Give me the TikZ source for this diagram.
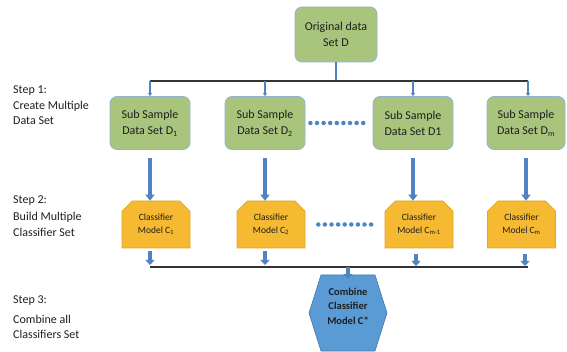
\documentclass[tikz,border=0pt]{standalone}
\usepackage{fontspec}
\setmainfont{Carlito}
\usetikzlibrary{arrows.meta,shapes.misc,calc}
\definecolor{gfill}{RGB}{169,196,124}
\definecolor{gline}{RGB}{150,178,210}
\definecolor{ofill}{RGB}{245,185,50}
\definecolor{oline}{RGB}{225,165,40}
\definecolor{hfill}{RGB}{91,155,213}
\definecolor{hline}{RGB}{70,120,170}
\definecolor{ablue}{RGB}{80,132,192}
\definecolor{txt}{RGB}{30,30,30}
\begin{document}
\begin{tikzpicture}[x=1pt,y=-1pt,
  gbox/.style={draw=gline, fill=gfill, rounded corners=7pt, line width=0.8pt,
    minimum width=80pt, minimum height=53pt, align=center, inner sep=0pt,
    font=\fontsize{12}{16}\selectfont, text=txt},
  cbox/.style={chamfered rectangle, chamfered rectangle corners={north west,north east},
    chamfered rectangle xsep=7pt, draw=oline, fill=ofill, line width=0.6pt,
    minimum width=68pt, minimum height=47pt, align=center, inner sep=0pt,
    font=\fontsize{9.5}{13}\selectfont, text=txt},
  steptext/.style={anchor=north west, align=left, inner sep=0pt,
    font=\fontsize{12}{15.5}\selectfont, text=txt},
  busline/.style={draw=black!80, line width=1.1pt},
  thinarrow/.style={draw=ablue, line width=1.3pt, -{Triangle[width=4pt,length=3pt]}},
  bigarrow/.style={draw=ablue, line width=3.5pt, -{Triangle[width=9pt,length=6pt]}},
  smallarrow/.style={draw=ablue, line width=3.5pt, -{Triangle[width=9pt,length=5pt]}},
  dotline/.style={draw=ablue, line width=4.5pt, line cap=round, dash pattern=on 0pt off 6.6pt},
]
\useasboundingbox (0,0) rectangle (567,352);

% original
\node[gbox, minimum width=82pt, minimum height=55pt] (orig) at (336,34.5) {Original data\\Set D};

% step labels
\node[steptext] (st1) at (13,86) {Step 1:\\Create Multiple\\Data Set};
\node[steptext] (st2) at (13,196) {Step 2:\\[1.5pt]Build Multiple\\Classifier Set};
\node[steptext] (st3) at (13,296) {Step 3:\\[4pt]Combine all\\Classifiers Set};

% sub sample boxes
\node[gbox] (s1) at (150,123) {Sub Sample\\Data Set D\textsubscript{1}};
\node[gbox] (s2) at (265,123) {Sub Sample\\Data Set D\textsubscript{2}};
\node[gbox] (s3) at (413,123) {Sub Sample\\Data Set D1};
\node[gbox, minimum width=78pt] (s4) at (526,123) {Sub Sample\\Data Set D\textsubscript{m}};

% top bus
\coordinate (b1L) at (150,81);
\coordinate (b1R) at (528,81);
\draw[draw=ablue, line width=1.3pt] (orig.south) -- (orig.south |- b1L);
\draw[busline] (b1L) -- (b1R);
\draw[thinarrow] (b1L) -- (s1.north);
\draw[thinarrow] (s2.north |- b1L) -- (s2.north);
\draw[thinarrow] (s3.north |- b1L) -- (s3.north);
\draw[thinarrow] (b1R) -- (b1R |- s4.north);

% classifiers
\node[cbox] (c1) at (156,224.5) {Classifier\\Model C\textsubscript{1}};
\node[cbox] (c2) at (271,224.5) {Classifier\\Model C\textsubscript{2}};
\node[cbox] (c3) at (419,224.5) {Classifier\\Model C\textsubscript{m-1}};
\node[cbox] (c4) at (521.5,224.5) {Classifier\\Model C\textsubscript{m}};

% big arrows
\draw[bigarrow, shorten <=8pt] (s1.south) -- (s1.south |- c1.north);
\draw[bigarrow, shorten <=8pt] (s2.south) -- (s2.south |- c2.north);
\draw[bigarrow, shorten <=8pt] (s3.south) -- (s3.south |- c3.north);
\draw[bigarrow, shorten <=8pt] (s4.south) -- (s4.south |- c4.north);

% dotted
\draw[dotline, shorten <=5pt, shorten >=6pt] (s2.east) -- (s3.west);
\draw[dotline, shorten <=13pt, shorten >=12pt] (c2.east) -- (c3.west);

% bottom bus
\coordinate (b2L) at (150,267);
\coordinate (b2R) at (528,267);
\draw[busline] (b2L) -- (b2R);
\draw[smallarrow, shorten <=2.5pt, shorten >=2pt] (s1.south |- c1.south) -- (b2L);
\draw[smallarrow, shorten <=2.5pt, shorten >=2pt] (s2.south |- c2.south) -- (s2.south |- b2L);
\draw[smallarrow, shorten <=6pt, shorten >=1pt] (416,248) -- (416,267);
\draw[smallarrow, shorten <=6pt, shorten >=1pt] (525,248) -- (525,267);

% hexagon
\draw[draw=hline, fill=hfill, line width=0.6pt] (309,313) -- (321,275) -- (375,275) -- (387,313) -- (375,351) -- (321,351) -- cycle;
\node[align=center, inner sep=0pt, font=\bfseries\fontsize{10.5}{14.5}\selectfont, text=txt] (hex) at (348,306) {Combine\\Classifier\\Model C*};
\coordinate (hextop) at (348,279);
\draw[smallarrow] (hextop |- b2L) -- (hextop);
\end{tikzpicture}
\end{document}
